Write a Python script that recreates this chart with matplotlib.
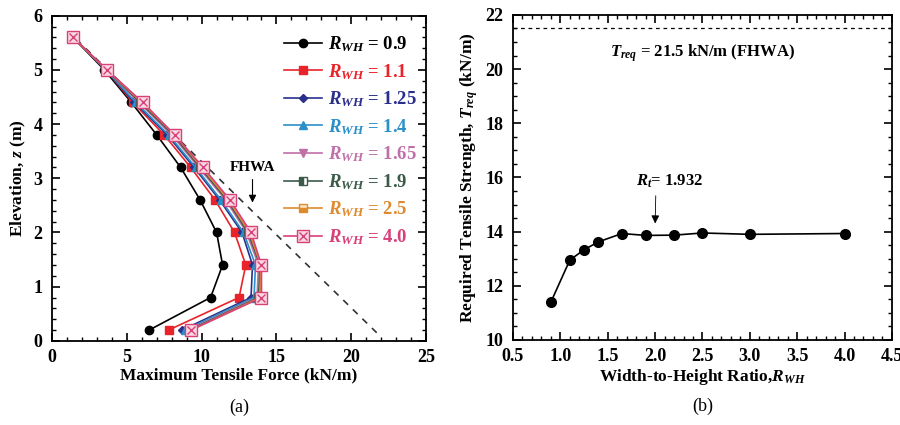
import numpy as np
import matplotlib
matplotlib.use("Agg")
from matplotlib import pyplot as plt
from matplotlib.ticker import MultipleLocator

plt.rcParams['font.family'] = ['Liberation Serif', 'DejaVu Serif']
plt.rcParams['font.weight'] = 'bold'
plt.rcParams['axes.labelweight'] = 'bold'
plt.rcParams['mathtext.fontset'] = 'custom'
plt.rcParams['mathtext.rm'] = 'Liberation Serif:bold'
plt.rcParams['mathtext.it'] = 'Liberation Serif:italic:bold'
plt.rcParams['mathtext.bf'] = 'Liberation Serif:bold'

# (a) max tensile force vs elevation
elev = [0.2, 0.8, 1.4, 2.0, 2.6, 3.2, 3.8, 4.4, 5.0, 5.6]
f_09 = [6.5, 10.6, 11.4, 11.0, 9.9, 8.6, 7.0, 5.3, 3.5, 1.4]
f_11 = [7.8, 12.5, 12.95, 12.2, 10.9, 9.27, 7.5, 5.4, 3.6, 1.4]
f_125 = [8.7, 13.3, 13.4, 12.7, 11.2, 9.5, 7.7, 5.5, 3.6, 1.4]
f_14 = [8.9, 13.5, 13.6, 12.8, 11.3, 9.6, 7.8, 5.6, 3.6, 1.4]
f_165 = [9.1, 13.7, 13.8, 13.0, 11.6, 9.8, 8.0, 5.8, 3.65, 1.4]
f_19 = [9.2, 13.8, 13.9, 13.1, 11.7, 9.9, 8.1, 5.9, 3.65, 1.4]
f_25 = [9.3, 13.9, 13.95, 13.2, 11.8, 10.0, 8.2, 6.0, 3.67, 1.4]
f_40 = [9.3, 14.0, 14.0, 13.3, 11.9, 10.1, 8.2, 6.07, 3.67, 1.4]
fhwa_x = [21.7, 1.5]
fhwa_z = [0.15, 5.6]

# (b) required tensile strength vs width-to-height ratio
rwh = [0.9, 1.1, 1.25, 1.4, 1.65, 1.9, 2.2, 2.5, 3.0, 4.0]
treq = [11.4, 12.95, 13.33, 13.62, 13.93, 13.86, 13.87, 13.95, 13.9, 13.93]
treq_fhwa = 21.5

fig = plt.figure(figsize=(9, 4.25), dpi=100)
ax1 = fig.add_axes([0.0578, 0.198, 0.4156, 0.765])
ax2 = fig.add_axes([0.570, 0.200, 0.421, 0.765])

ax1.plot(fhwa_x, fhwa_z, ls=(0, (4, 4)), color='#333333', lw=1.2, zorder=1)

series = [
    ('0.9', f_09, 'black', dict(marker='o', mfc='black')),
    ('1.1', f_11, '#e8242a', dict(marker='s', mfc='#e8242a')),
    ('1.25', f_125, '#2b2f8c', dict(marker='D', mfc='#2b2f8c', ms=4.5)),
    ('1.4', f_14, '#2a90c8', dict(marker='^', mfc='#2a90c8')),
    ('1.65', f_165, '#c070a8', dict(marker='v', mfc='#c070a8')),
    ('1.9', f_19, '#3b5a4a', dict(marker='s', mfc='#3b5a4a', fillstyle='left', mfcalt='white')),
    ('2.5', f_25, '#e08a30', dict(marker='s', mfc='#e08a30', fillstyle='bottom', mfcalt='#fbe3c4')),
]
handles = []
for lab, vals, col, mk in series:
    ms = mk.pop('ms', 6)
    h, = ax1.plot(vals, elev, color=col, lw=1.2, ms=ms, mec=col, **mk, zorder=2)
    handles.append(h)

pink = '#d8407a'
h1, = ax1.plot(f_40, elev, color=pink, lw=1.2, marker='s', ms=8, mfc='#fbd8e0', mec=pink, zorder=3)
h2, = ax1.plot(f_40, elev, ls='none', marker='x', ms=6, mec=pink, mew=1.0, zorder=4)
handles.append((h1, h2))

labels = [r'$R_{WH}$ = ' + s[0] for s in series] + [r'$R_{WH}$ = 4.0']
leg = ax1.legend(handles, labels, loc='upper right', frameon=False, fontsize=13.5,
                 handlelength=2.0, handletextpad=0.3, labelspacing=0.42,
                 bbox_to_anchor=(1.02, 0.995))
text_cols = ['black', '#e8242a', '#2b2f8c', '#2a90c8', '#c070a8', '#3b5a4a', '#e08a30', pink]
for t, c in zip(leg.get_texts(), text_cols):
    t.set_color(c)

ax1.annotate('FHWA', xy=(13.4, 2.5), xytext=(13.4, 3.2), ha='center', va='center',
             fontsize=11, arrowprops=dict(arrowstyle='-|>', color='black', lw=0.8))

ax1.set_xlim(0, 25)
ax1.set_ylim(0, 6)
ax1.xaxis.set_major_locator(MultipleLocator(5))
ax1.xaxis.set_minor_locator(MultipleLocator(1))
ax1.yaxis.set_major_locator(MultipleLocator(1))
ax1.yaxis.set_minor_locator(MultipleLocator(0.2))
ax1.set_xlabel('Maximum Tensile Force (kN/m)', fontsize=12.5, labelpad=1)
ax1.set_ylabel(r'Elevation, $z$ (m)', fontsize=12.5, labelpad=4)
ax1.text(0.5, -0.205, '(a)', transform=ax1.transAxes, ha='center', va='center',
         fontsize=13, fontweight='normal')

ax2.axhline(treq_fhwa, ls=(0, (3, 3)), color='black', lw=0.9)
ax2.plot(rwh, treq, color='black', marker='o', ms=7, lw=1.2)
ax2.text(2.5, 20.6, r'$T_{req}$ = 21.5 kN/m (FHWA)', ha='center', va='center', fontsize=12)
ax2.annotate(r'$R_t$= 1.932', xy=(2.0, 14.2), xytext=(2.15, 15.85), ha='center', va='center',
             fontsize=12, arrowprops=dict(arrowstyle='-|>', color='black', lw=0.6,
                                          connectionstyle='arc3', relpos=(0.3, 0.0)))
ax2.set_xlim(0.5, 4.5)
ax2.set_ylim(10, 22)
ax2.xaxis.set_major_locator(MultipleLocator(0.5))
ax2.xaxis.set_minor_locator(MultipleLocator(0.1))
ax2.yaxis.set_major_locator(MultipleLocator(2))
ax2.yaxis.set_minor_locator(MultipleLocator(0.5))
ax2.xaxis.set_major_formatter(plt.FormatStrFormatter('%.1f'))
ax2.set_xlabel(r'Width-to-Height Ratio,$R_{WH}$', fontsize=12.5, labelpad=1)
ax2.set_ylabel(r'Required Tensile Strength, $T_{req}$ (kN/m)', fontsize=12.5, labelpad=4)
ax2.text(0.5, -0.205, '(b)', transform=ax2.transAxes, ha='center', va='center',
         fontsize=13, fontweight='normal')

for ax in (ax1, ax2):
    ax.tick_params(which='both', direction='in', top=True, right=True, labelsize=13)
    ax.tick_params(which='major', length=6, width=1.2)
    ax.tick_params(which='minor', length=3, width=1.0)
    ax.tick_params(axis='x', pad=6)
    ax.tick_params(axis='y', pad=7)
    for sp in ax.spines.values():
        sp.set_linewidth(1.3)

fig.savefig('out.png', dpi=100)
